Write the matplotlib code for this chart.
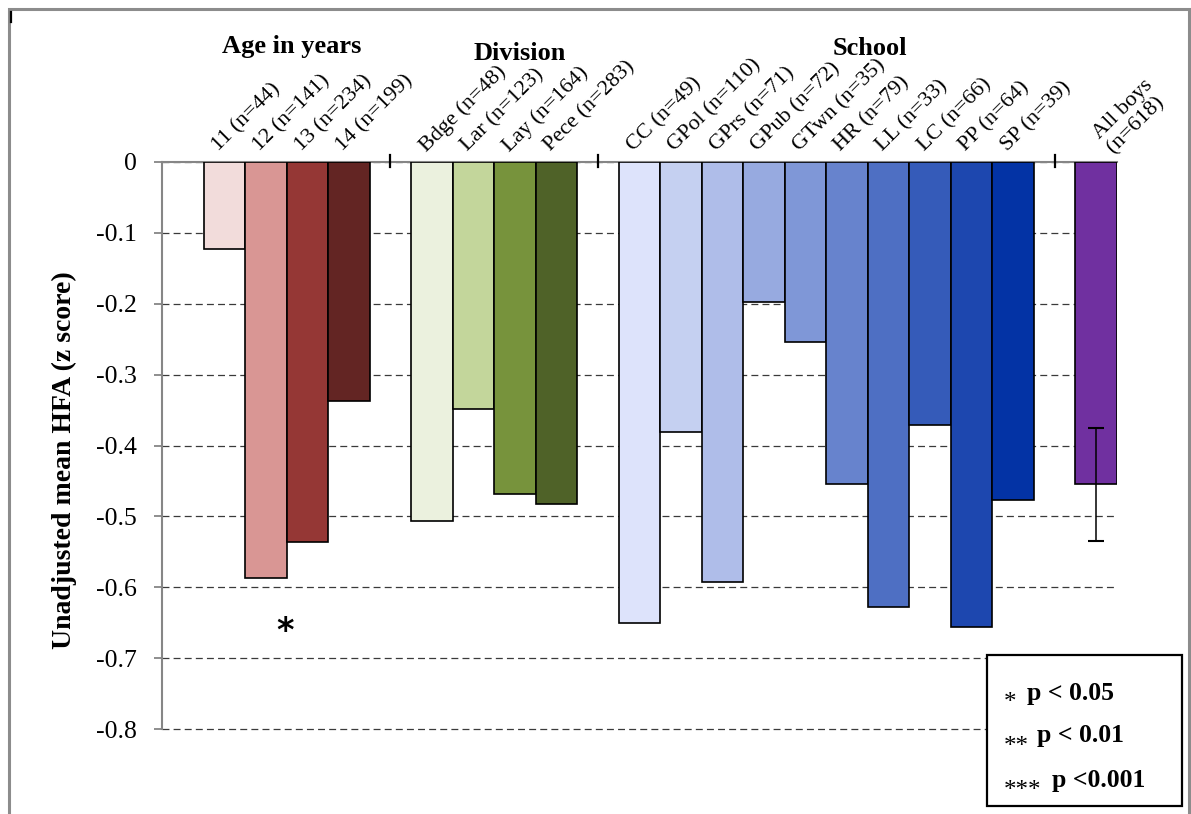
import matplotlib
matplotlib.use("Agg")
import matplotlib.pyplot as plt
from matplotlib.patches import Rectangle
from matplotlib.lines import Line2D
from matplotlib import transforms

plt.rcParams["font.family"] = ["Liberation Serif", "DejaVu Serif"]
plt.rcParams["axes.unicode_minus"] = False
plt.rcParams["lines.scale_dashes"] = False

# ---- data -------------------------------------------------------------
age_labels = ["11 (n=44)", "12 (n=141)", "13 (n=234)", "14 (n=199)"]
age_values = [-0.123, -0.587, -0.536, -0.337]
age_colors = ["#F2DCDB", "#D99694", "#953735", "#632523"]

division_labels = ["Bdge (n=48)", "Lar (n=123)", "Lay (n=164)", "Pece (n=283)"]
division_values = [-0.507, -0.348, -0.468, -0.483]
division_colors = ["#EBF1DE", "#C3D69B", "#77933C", "#4F6228"]

school_labels = ["CC (n=49)", "GPol (n=110)", "GPrs (n=71)", "GPub (n=72)",
                 "GTwn (n=35)", "HR (n=79)", "LL (n=33)", "LC (n=66)",
                 "PP (n=64)", "SP (n=39)"]
school_values = [-0.650, -0.381, -0.593, -0.198, -0.254,
                 -0.454, -0.628, -0.371, -0.656, -0.477]
school_colors = ["#DDE3FB", "#C5D0F1", "#AFBDE9", "#97AAE0", "#7F97D7",
                 "#6783CD", "#4E6FC3", "#355BB9", "#1D47AF", "#0333A5"]

all_label = "All boys\n(n=618)"
all_value = -0.455
all_error = 0.08
all_color = "#7030A0"

group_titles = ["Age in years", "Division", "School"]
y_ticks = [0, -0.1, -0.2, -0.3, -0.4, -0.5, -0.6, -0.7, -0.8]
y_label = "Unadjusted mean HFA (z score)"
legend_stars = ["*", "**", "***"]
legend_texts = ["p < 0.05", "p < 0.01", "p <0.001"]

# ---- layout: one empty slot between groups --------------------------
age_pos = list(range(0, 4))
division_pos = list(range(5, 9))
school_pos = list(range(10, 20))
all_pos = [21]
separator_pos = [4, 9, 20]

W, H = 1191, 814
fig = plt.figure(figsize=(W / 100, H / 100), dpi=100)
ax = fig.add_axes([162 / W, 1 - 729 / H, 955 / W, 567 / H])

bar_kw = dict(width=1.0, edgecolor="black", linewidth=1.2, zorder=3)
ax.bar(age_pos, age_values, color=age_colors, **bar_kw)
ax.bar(division_pos, division_values, color=division_colors, **bar_kw)
ax.bar(school_pos, school_values, color=school_colors, **bar_kw)
ax.bar(all_pos, [all_value], color=all_color, **bar_kw)
ax.errorbar(all_pos, [all_value], yerr=all_error, fmt="none", ecolor="black",
            elinewidth=1.1, capsize=6, capthick=1.5, zorder=4)

ax.set_xlim(-1.5, 21.5)
ax.set_ylim(-0.8, 0)
ax.set_yticks(y_ticks)
ax.set_yticklabels(["0" if v == 0 else f"{v:.1f}" for v in y_ticks], fontsize=18.5)
ax.tick_params(axis="y", direction="out", length=6, width=1.3, color="#868686", pad=12)
ax.set_xticks([])

for side in ("bottom", "right"):
    ax.spines[side].set_visible(False)
for side in ("left", "top"):
    ax.spines[side].set_color("#868686")
    ax.spines[side].set_linewidth(1.5)

ax.set_axisbelow(True)
ax.yaxis.grid(True, linestyle=(0, (5, 3)), color="#3a3a3a", linewidth=0.9)
for gl in ax.get_ygridlines():
    gl.set_clip_on(False)

ax.set_ylabel(y_label, fontsize=20, fontweight="bold")
ax.yaxis.set_label_coords(-0.089, 0.4744)

# group separators on the zero line
sep_tr = transforms.blended_transform_factory(ax.transData, ax.transAxes)
for p in separator_pos:
    ax.add_line(Line2D([p, p], [1.012, 0.991], transform=sep_tr, color="black",
                       linewidth=1.6, clip_on=False, zorder=5))

# rotated category labels above the zero line
def put_label(p, lab, dx, dy_px):
    tr = transforms.offset_copy(ax.transData, fig=fig, x=0, y=dy_px, units="dots")
    ax.text(p + dx, 0, lab, rotation=45, rotation_mode="anchor",
            ha="left", va="baseline", fontsize=16, transform=tr,
            linespacing=1.05)

for pos_list, labels in ((age_pos, age_labels), (division_pos, division_labels),
                         (school_pos, school_labels)):
    for p, lab in zip(pos_list, labels):
        put_label(p, lab, -0.14, 10)
put_label(all_pos[0], all_label, 0.4, 9)

# group headings
title_px = [(291.5, 53), (520, 60), (870, 55)]
for t, (px, py) in zip(group_titles, title_px):
    fig.text(px / W, 1 - py / H, t, ha="center", va="baseline",
             fontsize=19, fontweight="bold")

# significance marker for the age group
ax.text(1.46, -0.663, "*", ha="center", va="center", fontsize=24,
        fontweight="bold", family="DejaVu Sans", zorder=5)

# significance key
fig.add_artist(Rectangle((987 / W, 1 - 806 / H), 195 / W, 151 / H,
                         transform=fig.transFigure, facecolor="white",
                         edgecolor="black", linewidth=1.6, zorder=6))
key_rows = [(695, 700, 1027), (739, 742, 1037), (783, 787, 1052)]
for star, txt, (sy, by, tx) in zip(legend_stars, legend_texts, key_rows):
    fig.text(1004 / W, 1 - (sy + 14) / H, star, ha="left", va="baseline",
             fontsize=18, zorder=7)
    fig.text(tx / W, 1 - by / H, txt, ha="left", va="baseline",
             fontsize=18.5, fontweight="bold", zorder=7)

# outer chart frame
fig.add_artist(Rectangle((9 / W, -0.05), 1180 / W, 1.05 - 9 / H,
                         transform=fig.transFigure, facecolor="none",
                         edgecolor="#8C8C8C", linewidth=2.2, zorder=0))
fig.add_artist(Line2D([10.5 / W, 10.5 / W], [1 - 12 / H, 1 - 22 / H],
                      transform=fig.transFigure, color="black", linewidth=1.6))

fig.savefig("out.png", dpi=100, facecolor="white")
